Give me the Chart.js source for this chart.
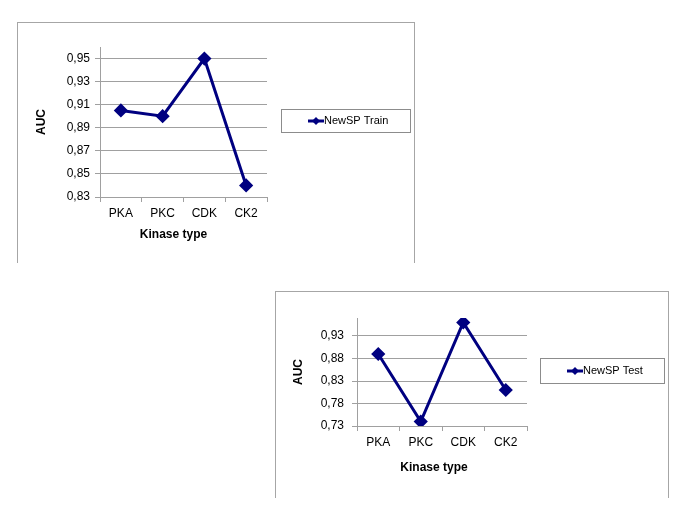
<!DOCTYPE html>
<html>
<head>
<meta charset="utf-8">
<script src="https://cdn.jsdelivr.net/npm/chart.js@4"></script>
<style>
  body{ margin:0; background:#fff; width:685px; height:513px; position:relative; overflow:hidden; }
  .frame{ position:absolute; border:1px solid #a6a6a6; border-bottom:none; box-sizing:border-box; }
  .frame canvas{ position:absolute; left:0; top:0; }
</style>
</head>
<body>
<div class="frame" id="f1" style="left:17px; top:22px; width:398px; height:241px;"><canvas id="c1" width="398" height="240"></canvas></div>
<div class="frame" id="f2" style="left:275px; top:291px; width:394px; height:207px;"><canvas id="c2" width="393" height="206"></canvas></div>
<script>
// === DATOS ===
const kinases = ['PKA','PKC','CDK','CK2'];
const trainAUC = [0.905, 0.900, 0.950, 0.840];
const testAUC  = [0.890, 0.740, 0.960, 0.810];
const trainTicks = [0.83, 0.85, 0.87, 0.89, 0.91, 0.93, 0.95];
const testTicks  = [0.73, 0.78, 0.83, 0.88, 0.93];

const NAVY = '#000080';
const GRID = '#a0a0a0';
const FONT = '"Liberation Sans", Arial, sans-serif';

// Leyenda con recuadro estilo Excel
const boxLegend = {
  id:'boxLegend',
  afterDraw(chart, args, o){
    const ctx = chart.ctx;
    ctx.save();
    ctx.strokeStyle = '#8c8c8c'; ctx.lineWidth = 1;
    ctx.strokeRect(o.x+0.5, o.y+0.5, o.w, o.h);
    const cy = o.y + o.h/2 + 0.5;
    ctx.strokeStyle = NAVY; ctx.lineWidth = 3;
    ctx.beginPath(); ctx.moveTo(o.x+27, cy); ctx.lineTo(o.x+43, cy); ctx.stroke();
    ctx.fillStyle = NAVY;
    ctx.beginPath(); ctx.moveTo(o.x+35, cy-4); ctx.lineTo(o.x+39, cy); ctx.lineTo(o.x+35, cy+4); ctx.lineTo(o.x+31, cy); ctx.closePath(); ctx.fill();
    ctx.fillStyle = '#000'; ctx.font = '11px '+FONT; ctx.textBaseline = 'middle';
    ctx.fillText(o.text, o.x+43, cy);
    ctx.restore();
  }
};

// Título del eje X (Excel lo centra un poco a la izquierda del área)
const xTitle = {
  id:'xTitle',
  afterDraw(chart, args, o){
    const s = chart.scales.x, ctx = chart.ctx;
    ctx.save();
    ctx.fillStyle = '#000'; ctx.font = 'bold 12px '+FONT;
    ctx.textAlign = 'center'; ctx.textBaseline = 'middle';
    ctx.fillText(o.text, (s.left+s.right)/2 + o.dx, s.top + o.dy);
    ctx.restore();
  }
};

const fmt = v => Number(v).toFixed(2).replace('.', ',');

function makeChart(id, label, values, yTicks, yMin, yMax, pad, tickPad, legend, xt){
  new Chart(document.getElementById(id), {
    type:'line',
    data:{ labels:kinases, datasets:[{
      label, data:values,
      borderColor:NAVY, backgroundColor:NAVY, borderWidth:3,
      pointStyle:'rectRot', pointRadius:5, pointHoverRadius:5, tension:0
    }]},
    plugins:[boxLegend, xTitle],
    options:{
      responsive:false, animation:false,
      layout:{ padding:pad },
      plugins:{ legend:{display:false}, tooltip:{enabled:false}, boxLegend:legend, xTitle:xt },
      scales:{
        x:{
          offset:true,
          grid:{ display:true, offset:true, drawOnChartArea:false, color:GRID, tickLength:5 },
          border:{ color:GRID },
          ticks:{ color:'#000', font:{family:FONT, size:12}, padding:4 },
          afterFit:(s)=>{ s.height = 50; }
        },
        y:{
          min:yMin, max:yMax,
          afterBuildTicks:(s)=>{ s.ticks = yTicks.map(v=>({value:v})); },
          grid:{ color:GRID, tickLength:5 },
          border:{ color:GRID },
          ticks:{ color:'#000', font:{family:FONT, size:12}, padding:tickPad, callback:fmt },
          title:{ display:true, text:'AUC', color:'#000', font:{family:FONT, size:12, weight:'bold'}, padding:{top:2, bottom:2} },
          afterFit:(s)=>{ s.width = 68; }
        }
      }
    }
  });
}

makeChart('c1', 'NewSP Train', trainAUC, trainTicks, 0.83, 0.96,
  {left:14, top:24, right:149, bottom:16}, 5,
  {x:263, y:86, w:129, h:23, text:'NewSP Train'},
  {text:'Kinase type', dx:-10, dy:38});
makeChart('c2', 'NewSP Test', testAUC, testTicks, 0.73, 0.97,
  {left:13, top:26, right:142, bottom:22}, 8,
  {x:264, y:66, w:124, h:25, text:'NewSP Test'},
  {text:'Kinase type', dx:-8, dy:42});
</script>
</body>
</html>
